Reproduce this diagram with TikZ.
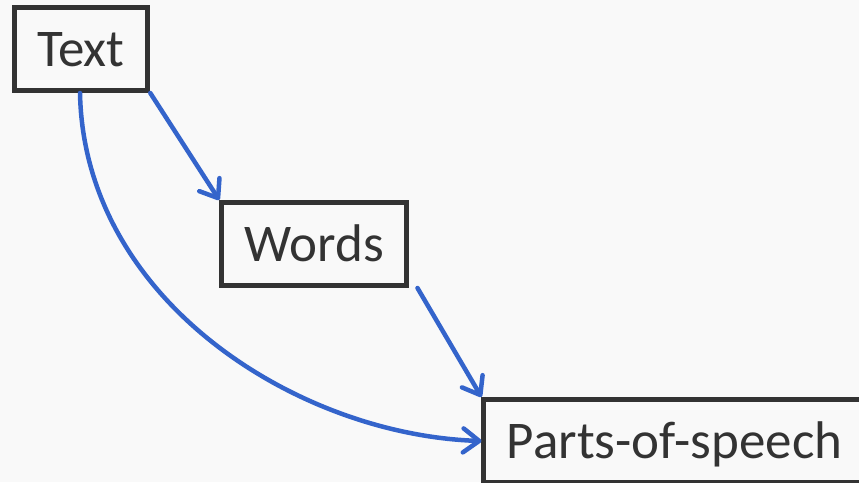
\documentclass[tikz,border=0pt]{standalone}
\usepackage{fontspec}
\setmainfont{Carlito}
\usetikzlibrary{arrows.meta,positioning}
\definecolor{pagebg}{HTML}{F9F9F9}
\definecolor{ink}{HTML}{333333}
\definecolor{linkblue}{HTML}{3464CB}
\tikzset{
  box/.style={
    rectangle,
    draw=ink,
    line width=5pt,
    fill=pagebg,
    text=ink,
    inner xsep=23pt,
    minimum height=83pt,
    text height=34pt,
    text depth=0pt,
    font=\fontsize{53pt}{60pt}\selectfont
  },
  link/.style={
    -{Straight Barb[length=16pt,width=24pt,line cap=round,line join=round]},
    line width=4.5pt,
    line cap=round,
    draw=linkblue
  }
}

\begin{document}
\begin{tikzpicture}
  \fill[pagebg] (0pt,0pt) rectangle (859pt,-482pt);
  \useasboundingbox (0pt,0pt) rectangle (859pt,-482pt);

  \node[box] (text) at (81pt,-49pt) {Text};
  \node[box, below right=107pt and 69pt of text] (words) {Words};
  \node[box, below right=109pt and 72pt of words] (pos) {Parts-of-speech};

  \draw[link] (text.south east) -- (words.north west);
  \draw[link] ([xshift=8pt]words.south east) -- (pos.north west);
  \draw[link] ([xshift=-1pt]text.south) .. controls +(4pt,-208pt) and +(-183pt,6pt) .. (pos.west);
\end{tikzpicture}
\end{document}
